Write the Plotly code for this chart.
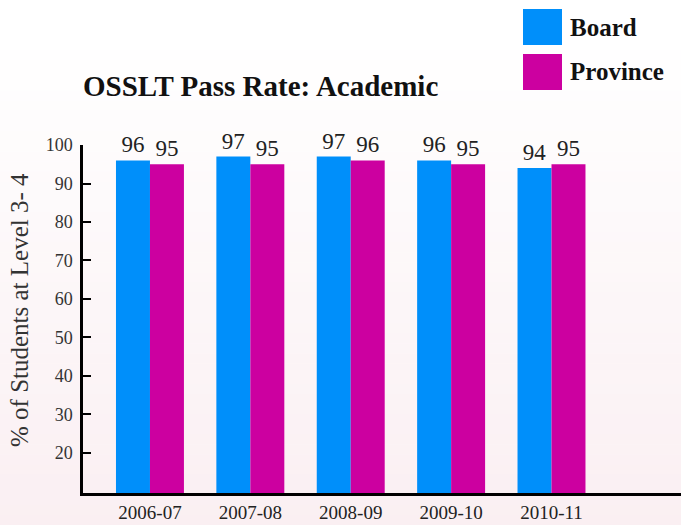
import plotly.graph_objects as go

# Pass rates (% of students at level 3-4)
years = ["2006-07", "2007-08", "2008-09", "2009-10", "2010-11"]
board = [96, 97, 97, 96, 94]
province = [95, 95, 96, 95, 95]

series_names = ["Board", "Province"]
series_colors = ["#008FFA", "#CC00A0"]
y_ticks = [20, 30, 40, 50, 60, 70, 80, 90, 100]

W, H = 681, 525
M_L, M_R, M_T, M_B = 83, 0, 145, 32
FONT = "Liberation Serif"

fig = go.Figure()
for name, vals, col in zip(series_names, [board, province], series_colors):
    fig.add_trace(go.Bar(
        x=years, y=vals, name=name, marker=dict(color=col, line=dict(width=0)),
        text=[str(v) for v in vals], textposition="outside",
        textfont=dict(family=FONT, size=23, color="#222222"),
        cliponaxis=False, showlegend=False,
    ))

pw = W - M_L - M_R
ph = H - M_T - M_B


def px_x(x):
    return (x - M_L) / pw


def px_y(y):
    return (H - M_B - y) / ph


# soft vertical background gradient: white at top to pale pink at bottom
shapes = []
n = 48
top_c = (255, 255, 255)
bot_c = (250, 239, 242)
start = 40
for i in range(n):
    y0 = start + (H - start) * i / n
    y1 = start + (H - start) * (i + 1) / n
    t = (i + 0.5) / n
    c = tuple(round(top_c[k] + (bot_c[k] - top_c[k]) * t) for k in range(3))
    shapes.append(dict(type="rect", xref="paper", yref="paper", layer="below",
                       x0=px_x(0), x1=1.0, y0=px_y(y1 + 0.5), y1=px_y(y0),
                       fillcolor="rgb(%d,%d,%d)" % c, line=dict(width=0)))

# legend swatches and labels
annotations = []
leg_rows = [(9, 45), (54, 90)]
for (y0, y1), name, col in zip(leg_rows, series_names, series_colors):
    shapes.append(dict(type="rect", xref="paper", yref="paper",
                       x0=px_x(523), x1=px_x(562), y0=px_y(y1), y1=px_y(y0),
                       fillcolor=col, line=dict(width=0)))
    annotations.append(dict(xref="paper", yref="paper", x=px_x(568), y=px_y((y0 + y1) / 2),
                            xanchor="left", yanchor="middle", showarrow=False,
                            text="<b>%s</b>" % name,
                            font=dict(family=FONT, size=25, color="#111111")))

# rotated y-axis title
annotations.append(dict(xref="paper", yref="paper", x=px_x(19), y=px_y(310),
                        xanchor="center", yanchor="middle", showarrow=False,
                        textangle=-90, text="% of Students at Level 3- 4",
                        font=dict(family=FONT, size=25, color="#333333")))

fig.update_layout(
    width=W, height=H,
    margin=dict(l=M_L, r=M_R, t=M_T, b=M_B),
    paper_bgcolor="white", plot_bgcolor="rgba(0,0,0,0)",
    barmode="group", bargap=0.323, bargroupgap=0,
    title=dict(text="<b>OSSLT Pass Rate: Academic</b>", x=83 / W, xanchor="left",
               xref="container", y=1 - 86 / H, yanchor="middle", yref="container",
               font=dict(family=FONT, size=29, color="#111111")),
    shapes=shapes, annotations=annotations,
    xaxis=dict(type="category", range=[-0.667, 5.29], showline=True, linecolor="black",
               linewidth=2.5, ticks="", showgrid=False, zeroline=False,
               tickfont=dict(family=FONT, size=19, color="#222222")),
    yaxis=dict(range=[9.6, 100], tickvals=y_ticks, showline=True, linecolor="black",
               linewidth=2.5, ticks="inside", ticklen=8, tickwidth=1.5, tickcolor="black",
               showgrid=False, zeroline=False, ticklabelstandoff=4,
               tickfont=dict(family=FONT, size=18, color="#333333")),
)

fig.write_html("out.html")
